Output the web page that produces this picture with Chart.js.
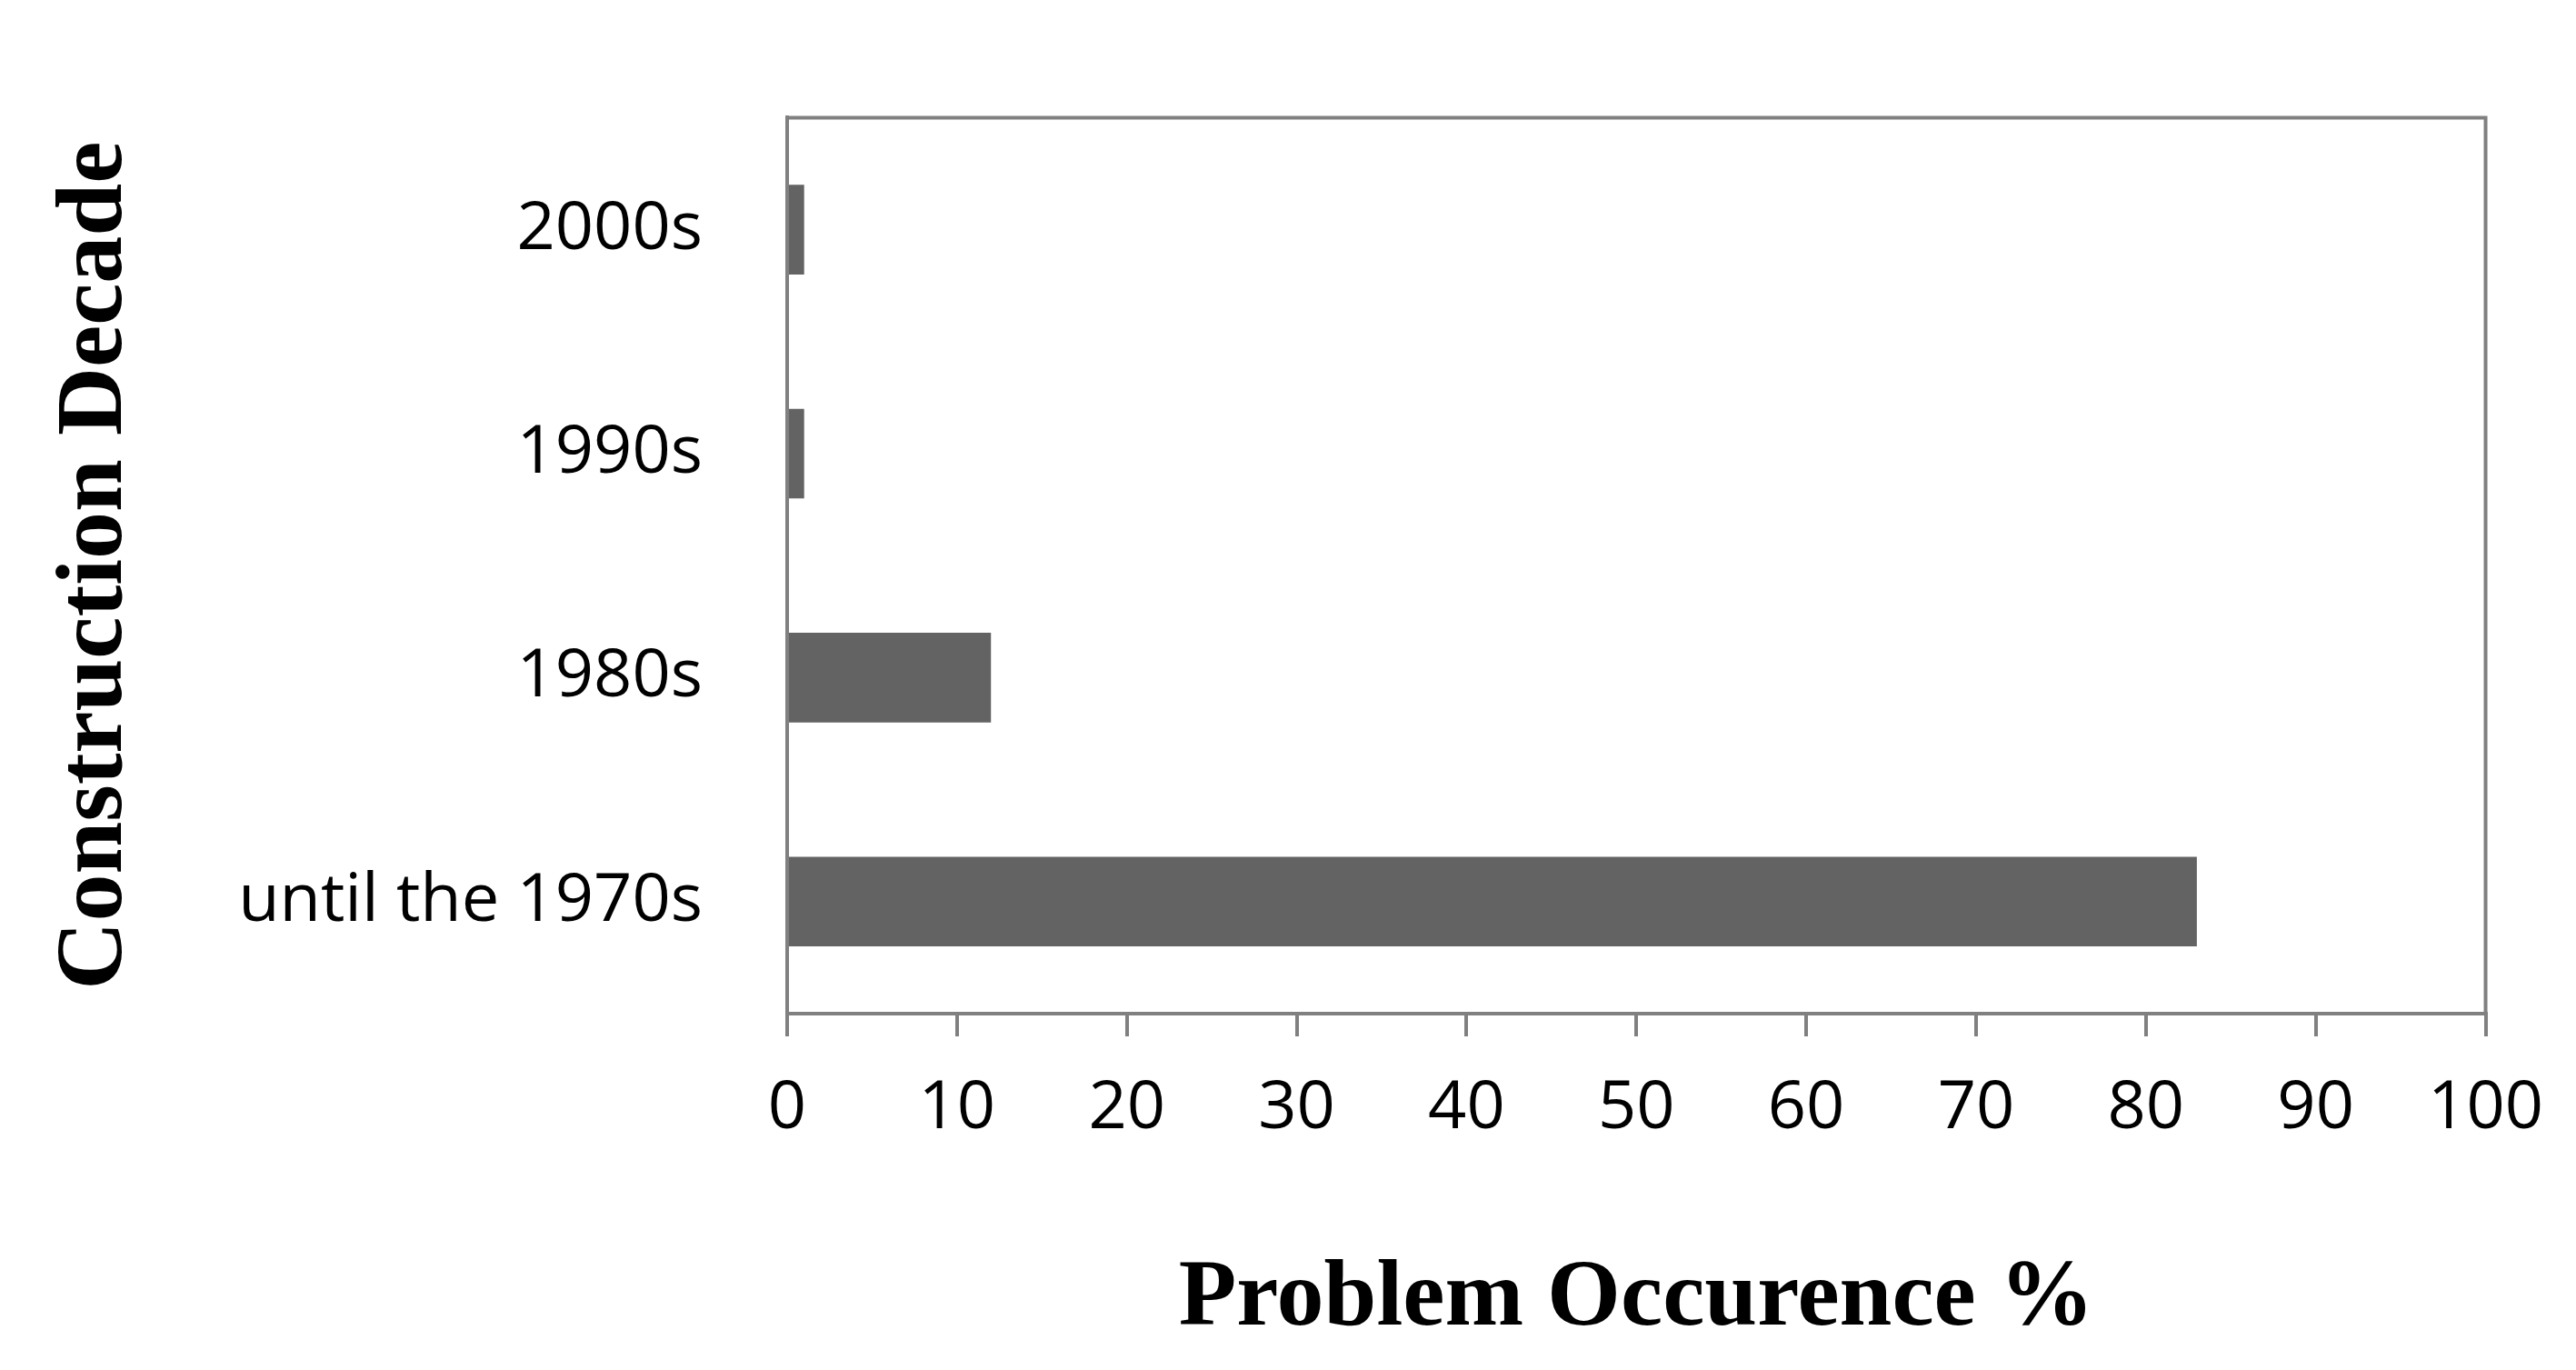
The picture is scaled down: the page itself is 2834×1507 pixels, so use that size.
<!DOCTYPE html>
<html>
<head>
<meta charset="utf-8">
<script src="https://cdn.jsdelivr.net/npm/chart.js@4"></script>
<style>
  html, body { margin: 0; padding: 0; background: #fff; }
  #wrap { width: 2834px; height: 1507px; }
</style>
</head>
<body>
<div id="wrap"><canvas id="chart" width="2834" height="1507"></canvas></div>
<script>
// Data
const categories = ['until the 1970s', '1980s', '1990s', '2000s'];
const occurrence = [83, 12, 1, 1];
const xTicks = [0, 10, 20, 30, 40, 50, 60, 70, 80, 90, 100];

const axisGray = '#808080';
const labelFont = { family: "'Liberation Sans Narrow', 'Open Sans', sans-serif", size: 74 };
const titleFont = { family: "'Liberation Serif', 'DejaVu Serif', serif", size: 104, weight: 'bold' };

// top/right frame of the plot area
const frame = {
    id: 'frame',
    afterDraw(chart) {
        const { ctx, chartArea: a } = chart;
        ctx.save();
        ctx.strokeStyle = axisGray;
        ctx.lineWidth = 4;
        ctx.beginPath();
        ctx.moveTo(a.left, a.top);
        ctx.lineTo(a.right, a.top);
        ctx.lineTo(a.right, a.bottom);
        ctx.stroke();
        ctx.restore();
    }
};

new Chart(document.getElementById('chart'), {
    type: 'bar',
    data: {
        labels: categories,
        datasets: [{
            data: occurrence,
            backgroundColor: '#636363',
            barPercentage: 0.4,
            categoryPercentage: 1
        }]
    },
    options: {
        indexAxis: 'y',
        responsive: false,
        animation: false,
        devicePixelRatio: 1,
        layout: { padding: { top: -76, right: 92, bottom: 10, left: 40 } },
        plugins: { legend: { display: false }, tooltip: { enabled: false } },
        scales: {
            x: {
                min: 0, max: 100,
                afterBuildTicks(axis) { axis.ticks = xTicks.map(v => ({ value: v })); },
                grid: { drawOnChartArea: false, drawTicks: true, tickLength: 25, color: axisGray, lineWidth: 4 },
                border: { color: axisGray, width: 4 },
                ticks: { color: '#000', font: labelFont, padding: 36, maxRotation: 0 },
                title: { display: true, text: 'Problem Occurence %', color: '#000', font: titleFont, padding: { top: 80 } },
                afterFit(axis) { axis.height = 382; }
            },
            y: {
                reverse: true,
                grid: { display: false },
                border: { color: axisGray, width: 4 },
                ticks: { color: '#000', font: labelFont, padding: 85 },
                title: { display: true, text: 'Construction Decade', color: '#000', font: titleFont, padding: { bottom: 20 } },
                afterFit(axis) { axis.width = 826; }
            }
        }
    },
    plugins: [frame]
});
</script>
</body>
</html>
